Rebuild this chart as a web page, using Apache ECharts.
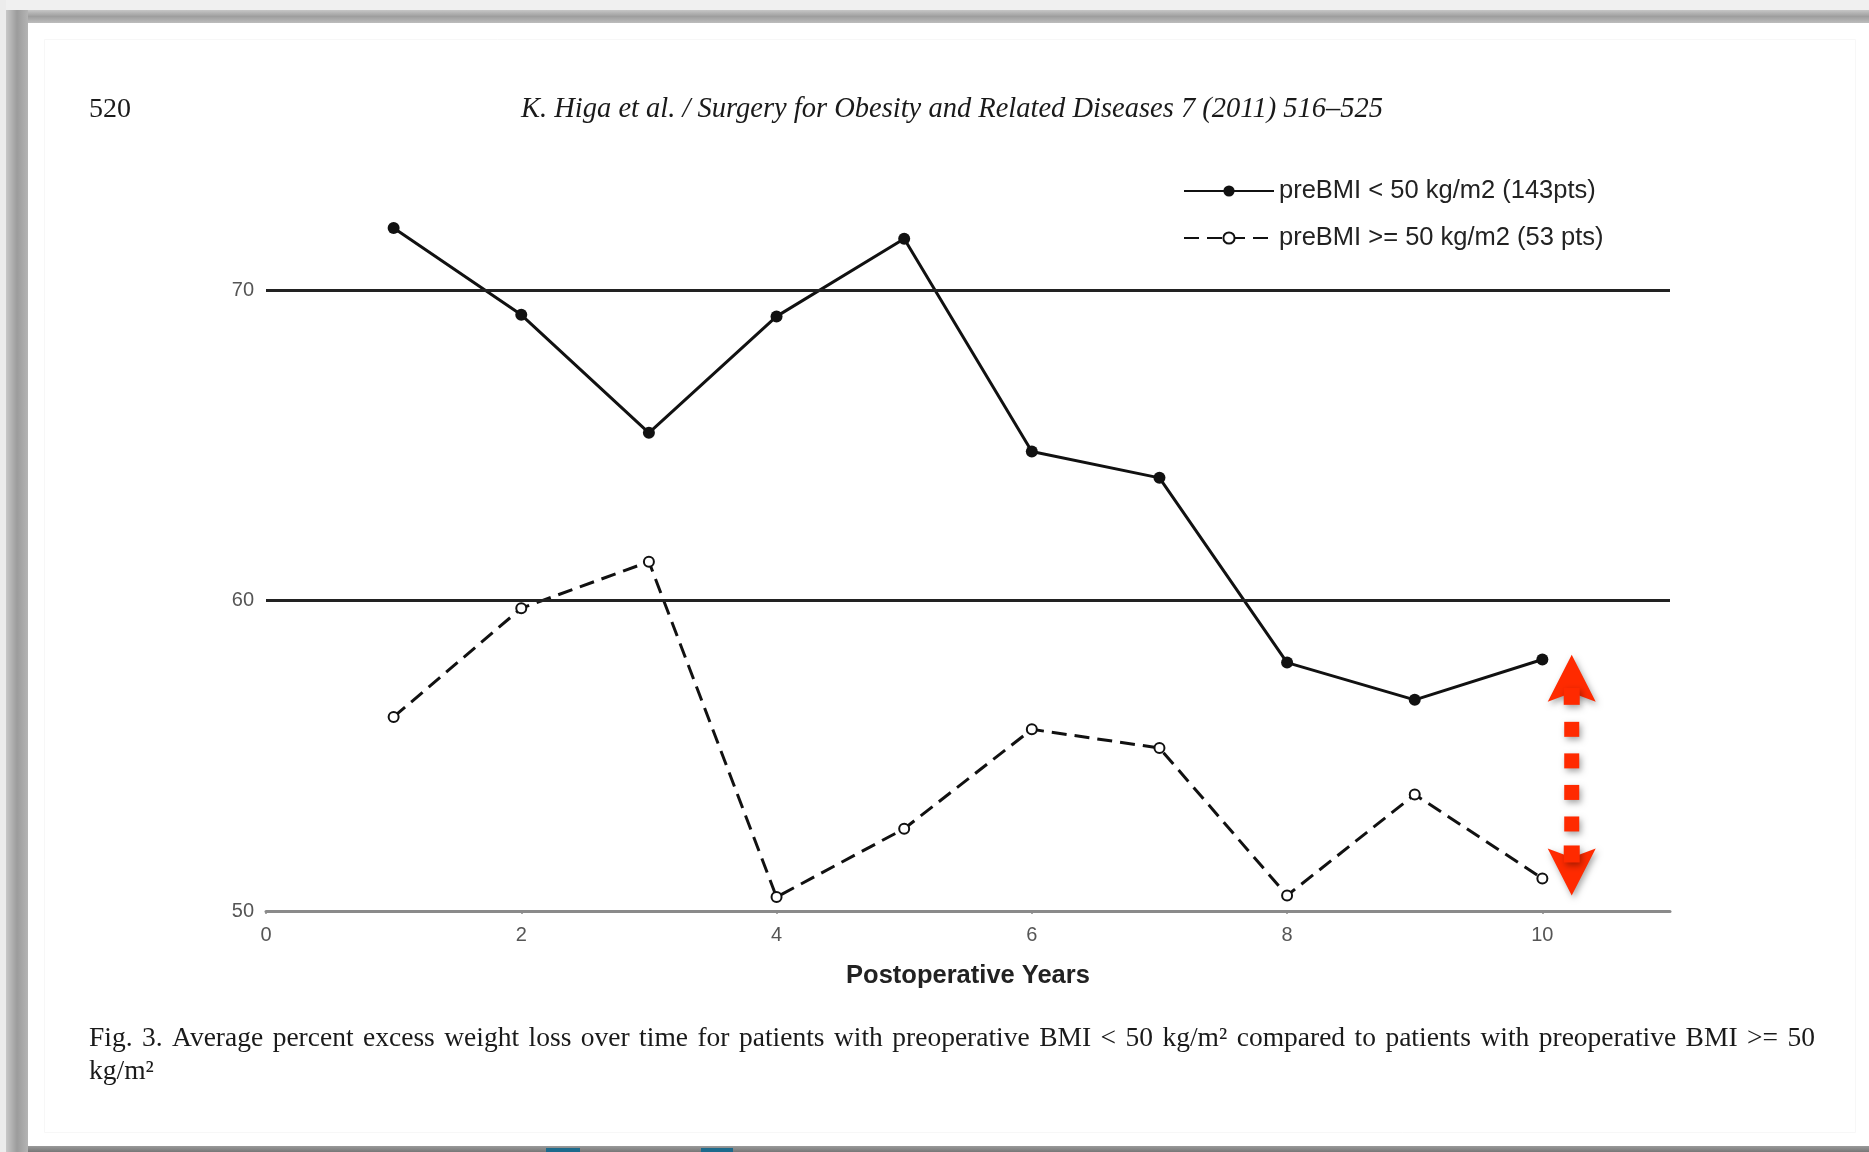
<!DOCTYPE html>
<html>
<head>
<meta charset="utf-8">
<script src="https://cdn.jsdelivr.net/npm/echarts@6/dist/echarts.min.js"></script>
<style>
  html, body { margin: 0; padding: 0; background: #fff; }
  #chart { width: 1869px; height: 1152px; }
</style>
</head>
<body>
<div id="chart"></div>
<script>
// Postoperative year of each follow-up
const years = [1, 2, 3, 4, 5, 6, 7, 8, 9, 10];
// Average %EWL, preoperative BMI < 50 kg/m2
const ewlUnder50 = [72.0, 69.2, 65.4, 69.15, 71.65, 64.8, 63.95, 58.0, 56.8, 58.1];
// Average %EWL, preoperative BMI >= 50 kg/m2
const ewlOver50 = [56.25, 59.75, 61.25, 50.45, 52.65, 55.85, 55.25, 50.5, 53.75, 51.05];
// Series names shown in the legend
const seriesNames = ['preBMI < 50 kg/m2 (143pts)', 'preBMI >= 50 kg/m2 (53 pts)'];
// Axis ranges and reference lines
const xRange = [0, 11];
const yRange = [50, 75];
const yGuides = [60, 70];
// Double-headed annotation arrow at year 10 spanning the gap between groups
const gapArrow = { year: 10.23, from: 58.25, to: 50.5 };
// Figure caption, two lines (first one justified)
const captionLines = [
  'Fig. 3. Average percent excess weight loss over time for patients with preoperative BMI < 50 kg/m\u00b2 compared to patients with preoperative BMI >= 50',
  'kg/m\u00b2'
];

const SANS = '"Liberation Sans", Arial, sans-serif';
const SERIF = '"Liberation Serif", "Times New Roman", serif';

(function () {
  const chart = echarts.init(document.getElementById('chart'), null, { renderer: 'canvas' });

  chart.setOption({
    animation: false,
    backgroundColor: '#fff',
    grid: { left: 266, right: 199, top: 134.75, bottom: 241, containLabel: false },
    legend: {
      orient: 'vertical',
      left: 1178,
      top: 173,
      itemWidth: 90,
      itemHeight: 14,
      itemGap: 21,
      selectedMode: false,
      textStyle: { fontFamily: SANS, fontSize: 25.5, color: '#222', lineHeight: 26 },
      data: seriesNames
    },
    xAxis: {
      type: 'value',
      min: xRange[0],
      max: xRange[1],
      interval: 2,
      axisLine: { show: true, lineStyle: { color: '#8a8a8a', width: 3 } },
      axisTick: { show: true, length: 3, lineStyle: { color: '#8a8a8a', width: 1.5 } },
      axisLabel: { showMaxLabel: false, margin: 14, fontFamily: SANS, fontSize: 20, color: '#555' },
      splitLine: { show: false },
      name: 'Postoperative Years',
      nameLocation: 'middle',
      nameGap: 52,
      nameTextStyle: { fontFamily: SANS, fontSize: 25.5, fontWeight: 'bold', color: '#222' }
    },
    yAxis: {
      type: 'value',
      min: yRange[0],
      max: yRange[1],
      interval: 10,
      axisLine: { show: false },
      axisTick: { show: false },
      splitLine: { show: false },
      axisLabel: { showMaxLabel: false, margin: 12, fontFamily: SANS, fontSize: 20, color: '#555' }
    },
    series: [
      {
        name: seriesNames[0],
        type: 'line',
        data: years.map((y, i) => [y, ewlUnder50[i]]),
        symbol: 'circle',
        symbolSize: 12,
        clip: false,
        lineStyle: { color: '#111', width: 3 },
        itemStyle: { color: '#111' },
        markLine: {
          silent: true,
          symbol: ['none', 'none'],
          label: { show: false },
          lineStyle: { color: '#222', width: 3, type: 'solid' },
          data: yGuides.map(v => ({ yAxis: v }))
        },
        z: 3
      },
      {
        name: seriesNames[1],
        type: 'line',
        data: years.map((y, i) => [y, ewlOver50[i]]),
        symbol: 'emptyCircle',
        symbolSize: 10,
        clip: false,
        lineStyle: { color: '#111', width: 3, type: [15, 8] },
        itemStyle: { color: '#111', borderWidth: 2.2 },
        z: 3
      }
    ]
  });

  // Justify the first caption line between the page margins
  const capFontSize = 27.5;
  const capLeft = 89, capRight = 1815;
  const ctx = document.createElement('canvas').getContext('2d');
  ctx.font = capFontSize + 'px ' + SERIF;
  const words = captionLines[0].split(' ');
  const wordsWidth = words.reduce((s, w) => s + ctx.measureText(w).width, 0);
  const spaceW = Math.max(ctx.measureText(' ').width, (capRight - capLeft - wordsWidth) / (words.length - 1));
  const captionRich = words.join('{sp| }');

  // Page furniture: frame, running header and figure caption
  const decor = [
    { type: 'rect', z: -5, shape: { x: 0, y: 0, width: 1869, height: 10 }, style: { fill: '#f0f0f0' } },
    { type: 'rect', z: -4, shape: { x: 0, y: 10, width: 1869, height: 13 },
      style: { fill: new echarts.graphic.LinearGradient(0, 0, 0, 1, [
        { offset: 0, color: '#c6c6c6' }, { offset: 0.5, color: '#9e9e9e' }, { offset: 1, color: '#bdbdbd' }]) } },
    { type: 'rect', z: -3, shape: { x: 0, y: 0, width: 6, height: 1152 }, style: { fill: '#ececec' } },
    { type: 'rect', z: -2, shape: { x: 6, y: 10, width: 22, height: 1142 },
      style: { fill: new echarts.graphic.LinearGradient(0, 0, 1, 0, [
        { offset: 0, color: '#c8c8c8' }, { offset: 0.5, color: '#9c9c9c' }, { offset: 1, color: '#b4b4b4' }]) } },
    { type: 'rect', z: -2, shape: { x: 28, y: 1146, width: 1841, height: 6 },
      style: { fill: new echarts.graphic.LinearGradient(0, 0, 0, 1, [
        { offset: 0, color: '#9a9a9a' }, { offset: 1, color: '#777' }]) } },
    { type: 'rect', z: -1, shape: { x: 546, y: 1148, width: 34, height: 4 }, style: { fill: '#1d6a8c' } },
    { type: 'rect', z: -1, shape: { x: 701, y: 1148, width: 32, height: 4 }, style: { fill: '#1d6a8c' } },
    { type: 'rect', z: -1, shape: { x: 44.5, y: 39.5, width: 1811, height: 1093 },
      style: { fill: null, stroke: '#f7f7f7', lineWidth: 1 } },
    { type: 'text', x: 89, y: 109.5,
      style: { text: '520', font: '28px ' + SERIF, fill: '#1a1a1a', textAlign: 'left', textVerticalAlign: 'middle' } },
    { type: 'text', x: 952, y: 109.5,
      style: { text: 'K. Higa et al. / Surgery for Obesity and Related Diseases 7 (2011) 516\u2013525',
        font: 'italic 28.5px ' + SERIF, fill: '#1a1a1a', textAlign: 'center', textVerticalAlign: 'middle' } },
    { type: 'text', x: capLeft, y: 1038.5,
      style: { text: captionRich, font: capFontSize + 'px ' + SERIF, fontSize: capFontSize, fontFamily: SERIF,
        fill: '#1a1a1a', textAlign: 'left', textVerticalAlign: 'middle',
        rich: { sp: { width: spaceW, fontSize: capFontSize, fontFamily: SERIF } } } },
    { type: 'text', x: capLeft, y: 1071.5,
      style: { text: captionLines[1], font: capFontSize + 'px ' + SERIF, fill: '#1a1a1a', textAlign: 'left', textVerticalAlign: 'middle' } }
  ];

  // Red dotted double arrow, anchored to the data coordinates
  const headPt = chart.convertToPixel({ gridIndex: 0 }, [gapArrow.year, gapArrow.from]);
  const tailPt = chart.convertToPixel({ gridIndex: 0 }, [gapArrow.year, gapArrow.to]);
  const ax = headPt[0], t = headPt[1], b = tailPt[1];
  const RED = '#ff2a00';
  const arrowStyle = { fill: RED, shadowBlur: 6, shadowColor: 'rgba(0,0,0,0.35)', shadowOffsetX: 2, shadowOffsetY: 3 };
  const arrow = [
    { type: 'polygon', z: 10, shape: { points: [[ax, t], [ax + 24, t + 47], [ax, t + 38], [ax - 24, t + 47]] }, style: arrowStyle },
    { type: 'rect', z: 10, shape: { x: ax - 8, y: t + 33, width: 16, height: 17 }, style: arrowStyle },
    { type: 'polygon', z: 10, shape: { points: [[ax, b], [ax + 24, b - 47], [ax, b - 38], [ax - 24, b - 47]] }, style: arrowStyle },
    { type: 'rect', z: 10, shape: { x: ax - 8, y: b - 50, width: 16, height: 17 }, style: arrowStyle }
  ];
  // evenly spaced square dots between the two heads
  const dotStart = t + 67, dotEnd = b - 64, nDots = 4, dot = 15;
  for (let i = 0; i < nDots; i++) {
    const yy = dotStart + i * (dotEnd - dotStart - dot) / (nDots - 1);
    arrow.push({ type: 'rect', z: 10, shape: { x: ax - 7.5, y: yy, width: dot, height: dot }, style: arrowStyle });
  }

  chart.setOption({ graphic: { elements: decor.concat(arrow) } });
})();
</script>
</body>
</html>
